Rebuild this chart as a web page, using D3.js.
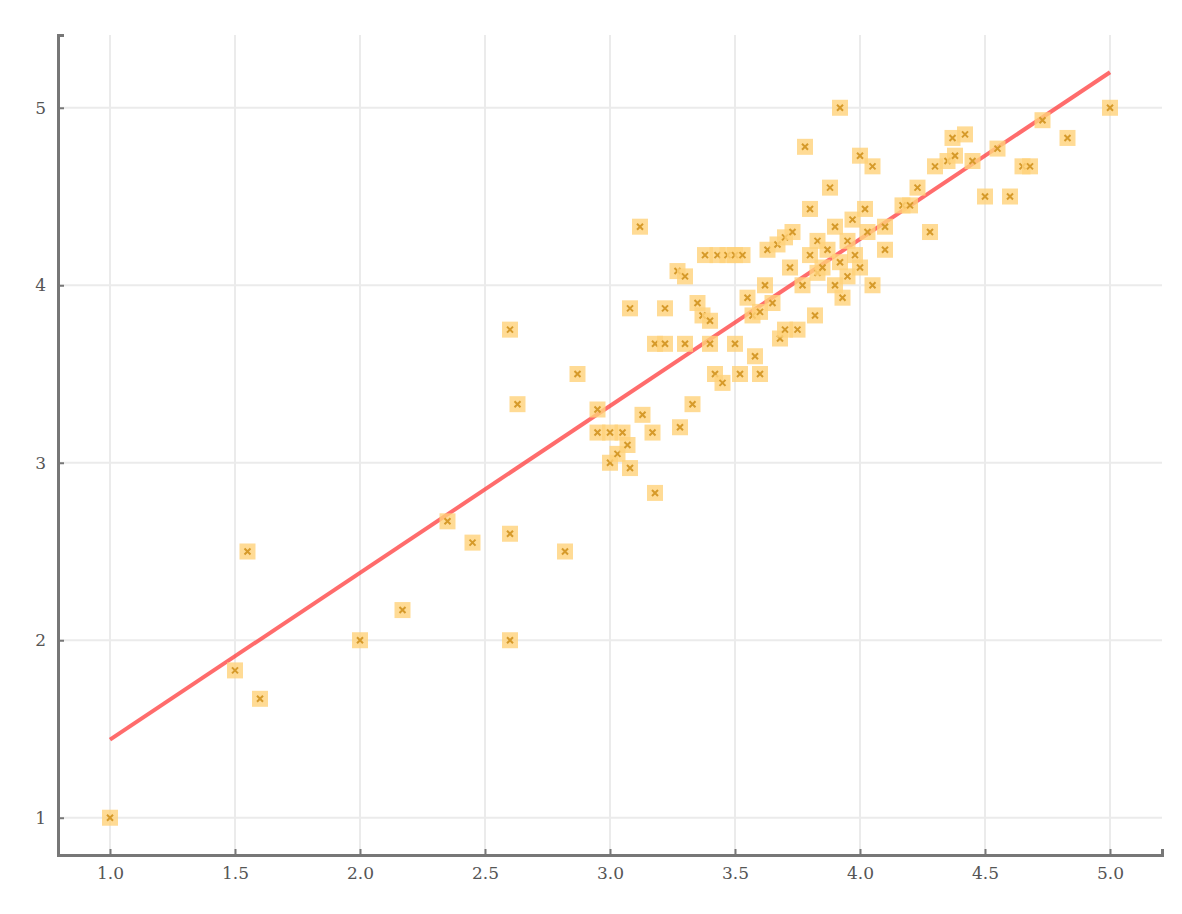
<!DOCTYPE html>
<html><head><meta charset="utf-8">
<script src="https://cdn.jsdelivr.net/npm/d3@7"></script>
<style>body{margin:0;background:#fff}</style>
</head><body>
<script>
let xs = [1.0,1.5,1.55,1.6,2.0,2.17,2.35,2.45,2.6,2.6,2.6,2.63,2.82,2.87,2.95,2.95,3.0,3.0,3.03,3.05,3.07,3.08,3.08,3.12,3.13,3.17,3.18,3.18,3.22,3.22,3.27,3.28,3.3,3.3,3.33,3.35,3.37,3.38,3.4,3.4,3.42,3.43,3.45,3.47,3.5,3.5,3.52,3.53,3.55,3.57,3.58,3.6,3.6,3.62,3.63,3.65,3.67,3.68,3.7,3.7,3.72,3.73,3.75,3.77,3.78,3.8,3.8,3.82,3.83,3.83,3.85,3.87,3.88,3.9,3.9,3.92,3.92,3.93,3.95,3.95,3.97,3.98,4.0,4.0,4.02,4.03,4.05,4.05,4.1,4.1,4.17,4.2,4.23,4.28,4.3,4.35,4.37,4.38,4.42,4.45,4.5,4.55,4.6,4.65,4.68,4.73,4.83,5.0]
let ys = [1.0,1.83,2.5,1.67,2.0,2.17,2.67,2.55,2.0,2.6,3.75,3.33,2.5,3.5,3.3,3.17,3.0,3.17,3.05,3.17,3.1,2.97,3.87,4.33,3.27,3.17,2.83,3.67,3.67,3.87,4.08,3.2,4.05,3.67,3.33,3.9,3.83,4.17,3.8,3.67,3.5,4.17,3.45,4.17,4.17,3.67,3.5,4.17,3.93,3.83,3.6,3.5,3.85,4.0,4.2,3.9,4.23,3.7,4.27,3.75,4.1,4.3,3.75,4.0,4.78,4.43,4.17,3.83,4.07,4.25,4.1,4.2,4.55,4.33,4.0,5.0,4.13,3.93,4.25,4.05,4.37,4.17,4.1,4.73,4.43,4.3,4.67,4.0,4.33,4.2,4.45,4.45,4.55,4.3,4.67,4.7,4.83,4.73,4.85,4.7,4.5,4.77,4.5,4.67,4.67,4.93,4.83,5.0]
let fitX = [1.0, 5.0]
let fitY = [1.44, 5.2]
let xTicks = [1.0,1.5,2.0,2.5,3.0,3.5,4.0,4.5,5.0]
let yTicks = [1,2,3,4,5]

let W = 1182, H = 914
let L = 58, R = 1162, T = 35, B = 855
let x = d3.scaleLinear().domain([0.792, 5.208]).range([L, R])
let y = d3.scaleLinear().domain([0.79, 5.41]).range([B, T])

let svg = d3.select('body').append('svg').attr('width', W).attr('height', H)

// grid
svg.append('g').selectAll('line').data(xTicks).join('line')
	.attr('x1', d => x(d)).attr('x2', d => x(d)).attr('y1', T).attr('y2', B)
	.attr('stroke', '#ebebeb').attr('stroke-width', 2)
svg.append('g').selectAll('line').data(yTicks).join('line')
	.attr('y1', d => y(d)).attr('y2', d => y(d)).attr('x1', L).attr('x2', R)
	.attr('stroke', '#ebebeb').attr('stroke-width', 2)

// axes
let xAxis = svg.append('g').attr('transform', `translate(0,${B})`)
	.call(d3.axisBottom(x).tickValues(xTicks).tickFormat(d3.format('.1f')).tickSize(-6).tickPadding(12))
let yAxis = svg.append('g').attr('transform', `translate(${L},0)`)
	.call(d3.axisLeft(y).tickValues(yTicks).tickFormat(d3.format('d')).tickSize(-6).tickPadding(12))
;[xAxis, yAxis].forEach(function(a) {
	a.select('.domain').attr('stroke', '#777').attr('stroke-width', 3)
	a.selectAll('.tick line').attr('stroke', '#777').attr('stroke-width', 2)
	a.selectAll('text').attr('font-family', 'DejaVu Serif').attr('font-size', 17).attr('fill', '#555')
})

// fit line
svg.append('line')
	.attr('x1', x(fitX[0])).attr('y1', y(fitY[0]))
	.attr('x2', x(fitX[1])).attr('y2', y(fitY[1]))
	.attr('stroke', '#ff3b3b').attr('stroke-width', 4).attr('opacity', 0.75)

// points
let pts = svg.append('g').selectAll('g').data(xs.map((d, i) => [d, ys[i]])).join('g')
	.attr('transform', d => `translate(${x(d[0])},${y(d[1])})`)
pts.append('rect').attr('x', -8).attr('y', -8).attr('width', 16).attr('height', 16)
	.attr('fill', '#ffd27a').attr('opacity', 0.8)
pts.append('path').attr('d', 'M-3,-3L3,3M-3,3L3,-3')
	.attr('stroke', '#d69a2a').attr('stroke-width', 2)
</script>
</body></html>
